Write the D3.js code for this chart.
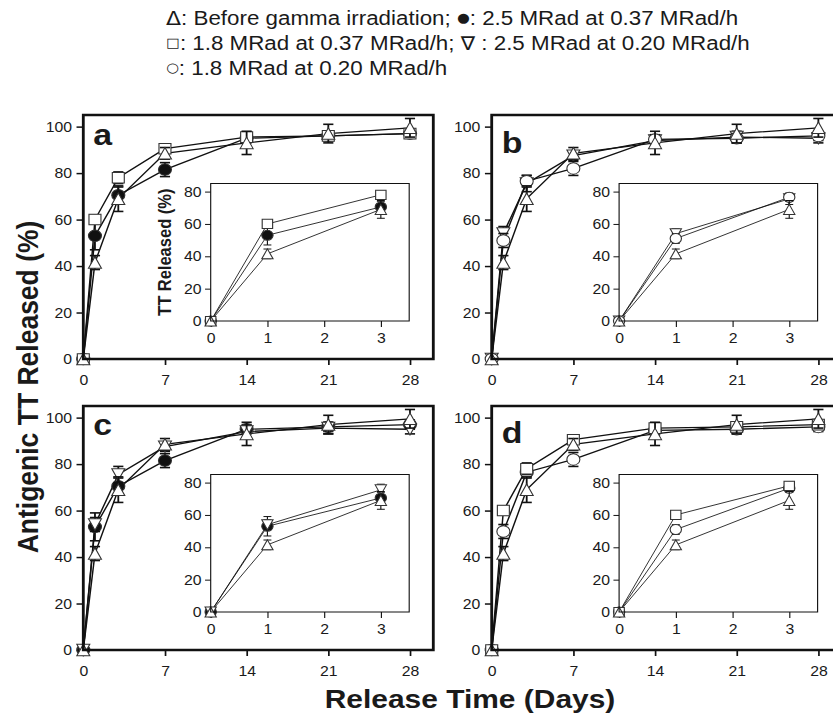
<!DOCTYPE html>
<html>
<head>
<meta charset="utf-8">
<script src="https://cdn.jsdelivr.net/npm/d3@7/dist/d3.min.js"></script>
<style>
body{margin:0;background:#fff;}
#chart-container text{font-family:"Liberation Sans",Arial,Helvetica,sans-serif;fill:#1a1a1a;}
</style>
</head>
<body>
<div id="chart-container"></div>
<script>
// VALUES (release in %, days)
const days = [0, 1, 3, 7, 14, 21, 28];

const beforeIrr    = [0, 41.5, 69, 88.5, 93, 97, 99.5];
const beforeIrrErr = [0, 3, 5.5, 2.5, 5, 4, 4];

const rad25at037    = [0, 53, 70.5, 81.5, 95, 96, 97];
const rad25at037Err = [0, 6, 3.5, 3, 2, 2, 2];

const rad18at037    = [0, 60, 78, 90.5, 95.5, 96, 97];
const rad18at037Err = [0, 2, 2.5, 2, 2, 2, 2];

const rad25at020    = [0, 54, 75.5, 87.5, 94, 95.5, 95];
const rad25at020Err = [0, 3, 3.5, 2, 2.5, 2.5, 2];

const rad18at020    = [0, 51, 76.5, 82, 94.5, 95, 96];
const rad18at020Err = [0, 3, 2.5, 3, 2, 2, 2];

const mainXTicks = [0, 7, 14, 21, 28];
const mainYTicks = [0, 20, 40, 60, 80, 100];
const insetXTicks = [0, 1, 2, 3];
const insetYTicks = [0, 20, 40, 60, 80];

const legendLines = [
    "\u0394: Before gamma irradiation; \u25CF: 2.5 MRad at 0.37 MRad/h",
    "\u25A1: 1.8 MRad at 0.37 MRad/h; \u2207 : 2.5 MRad at 0.20 MRad/h",
    "\u25CB: 1.8 MRad at 0.20 MRad/h"
];

const panelLetters = ["a", "b", "c", "d"];
const panelKeys = [
    ["r25_037", "r18_037", "before"],
    ["r25_020", "r18_020", "before"],
    ["r25_037", "r25_020", "before"],
    ["r18_020", "r18_037", "before"]
];

// series table built from the arrays above
const series = {
    before:  {vals: beforeIrr,  err: beforeIrrErr,  shape: "up",     fill: "#fff"},
    r25_037: {vals: rad25at037, err: rad25at037Err, shape: "circle", fill: "#111"},
    r18_037: {vals: rad18at037, err: rad18at037Err, shape: "square", fill: "#fff"},
    r25_020: {vals: rad25at020, err: rad25at020Err, shape: "down",   fill: "#fff"},
    r18_020: {vals: rad18at020, err: rad18at020Err, shape: "circle", fill: "#fff"}
};
// which one is drawn on top of which
const drawOrder = ["r25_037", "r25_020", "r18_020", "r18_037", "before"];

// the original figure is stretched sideways, so the whole svg is too
const W = 833, H = 714, SX = 1.13;
const px = v => v / SX;

const panels = [
    {left: 83.3,  top: 115, labelDy: 30},
    {left: 491.7, top: 115, labelDy: 38},
    {left: 83.3,  top: 406, labelDy: 29},
    {left: 491.7, top: 406, labelDy: 37}
];

const svg = d3.select("#chart-container").append("svg")
    .attr("width", W)
    .attr("height", H)
    .attr("viewBox", `0 0 ${W / SX} ${H}`)
    .attr("preserveAspectRatio", "none");

function markerPath(shape, s){
    if(shape === "circle") return d3.symbol().type(d3.symbolCircle).size(Math.PI * s * s / 4)();
    if(shape === "square") return d3.symbol().type(d3.symbolSquare).size(s * s * 0.85)();
    const h = s / 2;
    if(shape === "up") return `M0,${-h}L${h},${h}L${-h},${h}Z`;
    return `M0,${h}L${h},${-h}L${-h},${-h}Z`;
}

function styleAxis(ax, fs, sw){
    ax.select(".domain").remove();
    ax.selectAll(".tick line").attr("stroke", "#111").attr("stroke-width", sw);
    ax.selectAll(".tick text").attr("font-size", fs).attr("fill", "#1a1a1a");
}

function plotSeries(g, x, y, keys, maxDay, opt){
    const ordered = drawOrder.filter(k => keys.includes(k));
    const pts = k => days.map((d, i) => ({day: d, v: series[k].vals[i], e: series[k].err[i]}))
        .filter(p => p.day <= maxDay);

    const line = d3.line().x(p => x(p.day)).y(p => y(p.v));

    // LINES FIRST
    ordered.forEach(k => {
        g.append("path")
            .attr("d", line(pts(k)))
            .attr("fill", "none")
            .attr("stroke", "#111")
            .attr("stroke-width", opt.lw);
    });

    // ERROR BARS AND MARKERS
    ordered.forEach(k => {
        const s = series[k];
        const data = pts(k);
        const eb = g.append("g").attr("stroke", "#111").attr("stroke-width", opt.ew);
        data.filter(p => p.e > 0).forEach(p => {
            eb.append("line").attr("x1", x(p.day)).attr("x2", x(p.day))
                .attr("y1", y(p.v - p.e)).attr("y2", y(p.v + p.e));
            [p.v - p.e, p.v + p.e].forEach(c => {
                eb.append("line").attr("x1", x(p.day) - opt.cap).attr("x2", x(p.day) + opt.cap)
                    .attr("y1", y(c)).attr("y2", y(c));
            });
        });
        g.selectAll(null)
            .data(data)
            .enter()
            .append("path")
            .attr("transform", p => `translate(${x(p.day)},${y(p.v)})`)
            .attr("d", markerPath(s.shape, opt.ms))
            .attr("fill", s.fill)
            .attr("stroke", "#333")
            .attr("stroke-width", 1);
    });
}

function drawPanel(i){
    const p = panels[i];
    const keys = panelKeys[i];
    const g = svg.append("g");

    const pw = 350, ph = 244;
    const x = d3.scaleLinear().domain([0, 30]).range([px(p.left), px(p.left + pw)]);
    const y = d3.scaleLinear().domain([0, 105]).range([p.top + ph, p.top]);

    const ax = g.append("g").attr("transform", `translate(0,${p.top + ph})`)
        .call(d3.axisBottom(x).tickValues(mainXTicks).tickSize(6).tickSizeOuter(0).tickPadding(10).tickFormat(d3.format("d")));
    styleAxis(ax, "14px", 1.5);
    const ay = g.append("g").attr("transform", `translate(${px(p.left)},0)`)
        .call(d3.axisLeft(y).tickValues(mainYTicks).tickSize(6).tickSizeOuter(0).tickPadding(4));
    styleAxis(ay, "14px", 1.5);

    plotSeries(g, x, y, keys, 30, {lw: 1.3, ew: 1.6, cap: 4.5, ms: 11.5});

    // FRAME
    g.append("rect")
        .attr("x", px(p.left)).attr("y", p.top)
        .attr("width", px(pw)).attr("height", ph)
        .attr("fill", "none").attr("stroke", "#111").attr("stroke-width", 2.5);

    g.append("text")
        .attr("x", px(p.left + 10))
        .attr("y", p.top + p.labelDy)
        .attr("font-size", "30px")
        .attr("font-weight", "bold")
        .text(panelLetters[i]);

    // INSET (first 3 days)
    const il = p.left + 127.4, it = p.top + 68.5, iw = 198.5, ih = 137.5;
    const xi = d3.scaleLinear().domain([0, 3.5]).range([px(il), px(il + iw)]);
    const yi = d3.scaleLinear().domain([0, 85]).range([it + ih, it]);

    g.append("rect")
        .attr("x", px(il)).attr("y", it)
        .attr("width", px(iw)).attr("height", ih)
        .attr("fill", "#fff");

    const bx = g.append("g").attr("transform", `translate(0,${it + ih})`)
        .call(d3.axisBottom(xi).tickValues(insetXTicks).tickSize(6).tickSizeOuter(0).tickPadding(6).tickFormat(d3.format("d")));
    styleAxis(bx, "14px", 1);
    const by = g.append("g").attr("transform", `translate(${px(il)},0)`)
        .call(d3.axisLeft(yi).tickValues(insetYTicks).tickSize(5).tickSizeOuter(0).tickPadding(3));
    styleAxis(by, "14px", 1);

    plotSeries(g, xi, yi, keys, 3, {lw: 0.8, ew: 1, cap: 3.5, ms: 10});

    g.append("rect")
        .attr("x", px(il)).attr("y", it)
        .attr("width", px(iw)).attr("height", ih)
        .attr("fill", "none").attr("stroke", "#111").attr("stroke-width", 1);

    if(i === 0){
        g.append("text")
            .attr("transform", `translate(${px(il - 46)},${it + ih / 2}) rotate(-90)`)
            .attr("text-anchor", "middle")
            .attr("dy", "0.35em")
            .attr("font-size", "16.5px")
            .attr("font-weight", "bold")
            .text("TT Released (%)");
    }
}

panels.forEach((p, i) => drawPanel(i));

// LEGEND TEXT - the symbol glyphs get a lighter, smaller font like the original
const symbolStyle = {
    "\u0394": {size: "19.5px", shift: 0},
    "\u25CF": {size: "13px", shift: -2.5},
    "\u25A1": {size: "13px", shift: -2.5},
    "\u2207": {size: "19px", shift: 0},
    "\u25CB": {size: "13px", shift: -2.5}
};
legendLines.forEach((line, i) => {
    const t = svg.append("text")
        .attr("x", px(166))
        .attr("y", 25 + i * 25)
        .attr("font-size", "19.8px");
    let back = 0;
    line.split(/([\u0394\u25CF\u25A1\u2207\u25CB])/).filter(s => s.length).forEach(part => {
        const st = symbolStyle[part];
        const ts = t.append("tspan").text(part);
        if(st){
            ts.style("font-size", st.size).style("font-family", "DejaVu Sans")
                .style("font-weight", "normal").attr("dy", st.shift);
            back = -st.shift;
        }else{
            ts.attr("dy", back);
            back = 0;
        }
    });
});

// AXIS TITLES
svg.append("text")
    .attr("transform", `translate(${px(28)},387) rotate(-90)`)
    .attr("text-anchor", "middle")
    .attr("dy", "0.35em")
    .attr("font-size", "26.5px")
    .attr("font-weight", "bold")
    .text("Antigenic TT Released (%)");

svg.append("text")
    .attr("x", px(470))
    .attr("y", 708)
    .attr("text-anchor", "middle")
    .attr("font-size", "26.5px")
    .attr("font-weight", "bold")
    .text("Release Time (Days)");
</script>
</body>
</html>
